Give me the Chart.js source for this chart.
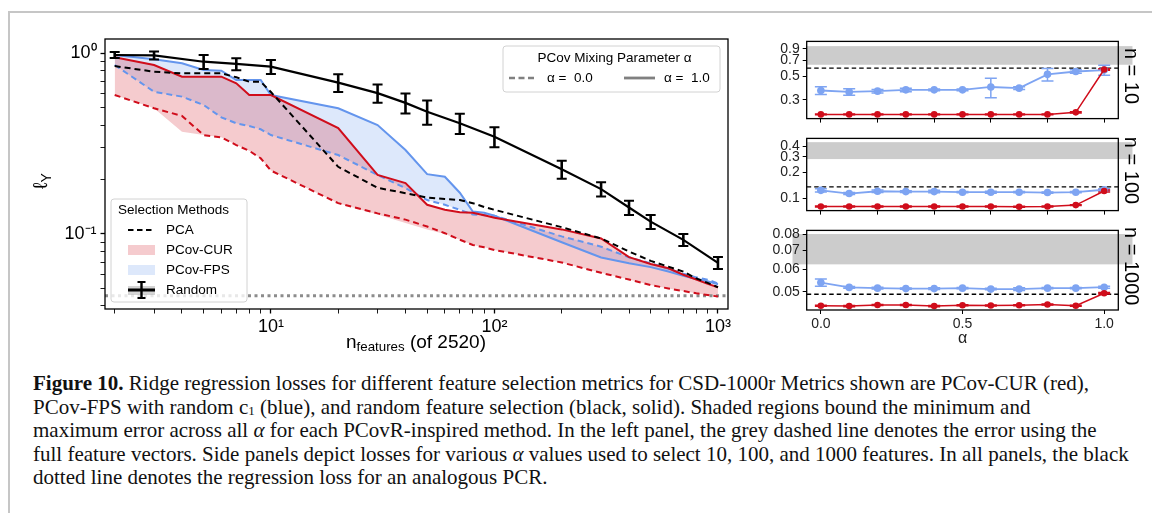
<!DOCTYPE html>
<html>
<head>
<meta charset="utf-8">
<title>Figure 10</title>
<script src="https://cdn.jsdelivr.net/npm/chart.js@4.4.1/dist/chart.umd.min.js"></script>
<style>
  html, body { margin: 0; padding: 0; background: #fff; }
  body { position: relative; width: 1152px; height: 513px; overflow: hidden; font-family: "Liberation Sans", Arial, sans-serif; }
  #frame { position: absolute; left: 8px; top: 11px; width: 1200px; height: 600px; border-top: 2px solid #c6c6c6; border-left: 2px solid #c6c6c6; }
  canvas { position: absolute; }
  #main { left: 0; top: 0; }
  #side10 { left: 760px; top: 30px; }
  #side100 { left: 760px; top: 127px; }
  #side1000 { left: 760px; top: 219px; }
  .lab { position: absolute; color: #000; white-space: nowrap; text-align: center; }
  #ylab { left: 20px; top: 170px; width: 40px; height: 22px; line-height: 22px; font-size: 20px; transform: rotate(-90deg); }
  #xlab { left: 296px; top: 331px; width: 240px; font-size: 19px; }
  .lab sub { font-size: 70%; vertical-align: -0.25em; line-height: 0; }
  #caption { position: absolute; left: 33px; top: 372px; font-family: "Liberation Serif", "Times New Roman", serif; font-size: 21px; line-height: 23.5px; color: #111; white-space: nowrap; }
  #caption sub { font-size: 62%; position: relative; top: 0.15em; vertical-align: baseline; line-height: 0; }
</style>
</head>
<body>
<div id="frame"></div>
<canvas id="main" width="745" height="370"></canvas>
<canvas id="side10" width="392" height="100"></canvas>
<canvas id="side100" width="392" height="95"></canvas>
<canvas id="side1000" width="392" height="151"></canvas>
<div class="lab" id="ylab">ℓ<sub>Y</sub></div>
<div class="lab" id="xlab">n<sub>features</sub> (of 2520)</div>
<div id="caption">
<b>Figure 10.</b> Ridge regression losses for different feature selection metrics for CSD-1000r Metrics shown are PCov-CUR (red),<br>
PCov-FPS with random c<sub>1</sub> (blue), and random feature selection (black, solid). Shaded regions bound the minimum and<br>
maximum error across all <i>α</i> for each PCovR-inspired method. In the left panel, the grey dashed line denotes the error using the<br>
full feature vectors. Side panels depict losses for various <i>α</i> values used to select 10, 100, and 1000 features. In all panels, the black<br>
dotted line denotes the regression loss for an analogous PCR.
</div>
<script>
// ---- main panel data ----
const nRandom = [2, 3, 5, 7, 10, 20, 30, 40, 50, 70, 100, 200, 300, 400, 500, 700, 1000];
const lossRandom = [0.975, 0.97, 0.895, 0.87, 0.84, 0.686, 0.60, 0.53, 0.474, 0.409, 0.345, 0.228, 0.177, 0.14, 0.117, 0.0928, 0.0693];
const errRandom = [0.037, 0.049, 0.080, 0.066, 0.075, 0.078, 0.069, 0.067, 0.072, 0.052, 0.044, 0.026, 0.016, 0.0125, 0.0104, 0.0071, 0.0053];

const nPCov = [2, 3, 4, 5, 6, 7, 8, 9, 10, 20, 30, 40, 50, 60, 70, 80, 90, 100, 200, 300, 400, 500, 600, 700, 800, 900, 1000];
const lossPCA = [0.847, 0.788, 0.772, 0.772, 0.772, 0.734, 0.694, 0.694, 0.609, 0.235, 0.180, 0.168, 0.159, 0.156, 0.154, 0.148, 0.141, 0.136, 0.109, 0.0945, 0.080, 0.071, 0.066, 0.062, 0.0568, 0.0537, 0.0508];
const curA1 = [0.947, 0.858, 0.740, 0.740, 0.740, 0.68, 0.586, 0.586, 0.586, 0.385, 0.212, 0.191, 0.145, 0.136, 0.132, 0.131, 0.127, 0.123, 0.106, 0.0945, 0.0745, 0.0683, 0.0646, 0.0595, 0.056, 0.053, 0.0508];
const fpsA1 = [0.975, 0.923, 0.877, 0.805, 0.798, 0.709, 0.709, 0.709, 0.586, 0.495, 0.40, 0.291, 0.214, 0.207, 0.169, 0.133, 0.131, 0.126, 0.090, 0.0742, 0.0689, 0.0656, 0.062, 0.0588, 0.0564, 0.0547, 0.0528];
const curA0 = [0.586, 0.495, 0.449, 0.352, 0.342, 0.31, 0.288, 0.262, 0.224, 0.148, 0.130, 0.12, 0.110, 0.101, 0.093, 0.087, 0.0844, 0.0816, 0.0696, 0.061, 0.056, 0.0522, 0.050, 0.0484, 0.047, 0.046, 0.0451];
const fpsA0 = [0.858, 0.611, 0.574, 0.516, 0.441, 0.409, 0.395, 0.379, 0.352, 0.273, 0.212, 0.179, 0.154, 0.145, 0.136, 0.128, 0.127, 0.126, 0.097, 0.0851, 0.0743, 0.0689, 0.0643, 0.0604, 0.0576, 0.0559, 0.0533];
const curMin = [0.586, 0.495, 0.367, 0.352, 0.342, 0.31, 0.288, 0.262, 0.224, 0.148, 0.128, 0.115, 0.106, 0.100, 0.093, 0.087, 0.0844, 0.0816, 0.0696, 0.061, 0.056, 0.0522, 0.050, 0.0484, 0.047, 0.046, 0.0451];
const pcrLoss = 0.0455;

const xTickVals = [2, 3, 4, 5, 6, 7, 8, 9, 10, 20, 30, 40, 50, 60, 70, 80, 90, 100, 200, 300, 400, 500, 600, 700, 800, 900, 1000];
const xTickLabels = { 10: "10¹", 100: "10²", 1000: "10³" };
const yTickVals = [0.04, 0.05, 0.06, 0.07, 0.08, 0.09, 0.1, 0.2, 0.3, 0.4, 0.5, 0.6, 0.7, 0.8, 0.9, 1];
const yTickLabels = { 1: "10⁰", 0.1: "10⁻¹" };

// ---- side panel data ----
const alphas = [0, 0.1, 0.2, 0.3, 0.4, 0.5, 0.6, 0.7, 0.8, 0.9, 1.0];
const fps10 = [0.367, 0.356, 0.362, 0.372, 0.372, 0.372, 0.396, 0.386, 0.520, 0.553, 0.571];
const fps10Err = [0.031, 0.025, 0.014, 0.014, 0.007, 0.007, 0.082, 0.011, 0.069, 0.021, 0.061];
const cur10 = [0.219, 0.219, 0.219, 0.219, 0.219, 0.219, 0.219, 0.219, 0.219, 0.229, 0.578];
const cur10Err = [0.002, 0.002, 0.002, 0.002, 0.002, 0.002, 0.002, 0.002, 0.002, 0.003, 0.01];
const pca10 = 0.596;
const random10 = [0.640, 0.957];

const fps100 = [0.123, 0.113, 0.120, 0.119, 0.119, 0.117, 0.117, 0.117, 0.116, 0.117, 0.125];
const fps100Err = [0.005, 0.003, 0.004, 0.003, 0.004, 0.002, 0.003, 0.002, 0.002, 0.002, 0.003];
const cur100 = [0.080, 0.080, 0.080, 0.080, 0.080, 0.080, 0.080, 0.0795, 0.080, 0.083, 0.121];
const cur100Err = [0.001, 0.001, 0.001, 0.001, 0.001, 0.001, 0.001, 0.001, 0.001, 0.001, 0.003];
const pca100 = 0.135;
const random100 = [0.283, 0.444];

const fps1000 = [0.0539, 0.0518, 0.0515, 0.0513, 0.0513, 0.0515, 0.0511, 0.0511, 0.0515, 0.0515, 0.0519];
const fps1000Err = [0.0016, 0.0004, 0.0004, 0.0003, 0.0004, 0.0003, 0.0003, 0.0006, 0.0003, 0.0003, 0.0004];
const cur1000 = [0.0446, 0.0445, 0.0449, 0.0449, 0.0445, 0.0448, 0.0447, 0.0448, 0.0451, 0.0446, 0.0494];
const cur1000Err = [0.0002, 0.0002, 0.0002, 0.0002, 0.0002, 0.0002, 0.0002, 0.0002, 0.0002, 0.0002, 0.0003];
const pca1000 = 0.0490;
const random1000 = [0.0625, 0.080];

const red = "#d00d1b";
const blue = "#6495ed";
const blueSide = "#7ea4f2";
const pinkFill = "rgba(208,16,32,0.22)";
const blueFill = "rgba(100,149,237,0.22)";

Chart.defaults.font.family = "'Liberation Sans', Arial, sans-serif";
Chart.defaults.color = "#000";

const toXY = (xs, ys) => xs.map((x, i) => ({ x: x, y: ys[i] }));

function boxPath(ctx, x, y, w, h, r) {
  ctx.beginPath();
  ctx.moveTo(x + r, y);
  ctx.lineTo(x + w - r, y);
  ctx.quadraticCurveTo(x + w, y, x + w, y + r);
  ctx.lineTo(x + w, y + h - r);
  ctx.quadraticCurveTo(x + w, y + h, x + w - r, y + h);
  ctx.lineTo(x + r, y + h);
  ctx.quadraticCurveTo(x, y + h, x, y + h - r);
  ctx.lineTo(x, y + r);
  ctx.quadraticCurveTo(x, y, x + r, y);
  ctx.closePath();
}

function hline(ctx, x0, x1, y, color, width, dash) {
  ctx.save();
  ctx.strokeStyle = color;
  ctx.lineWidth = width;
  ctx.setLineDash(dash || []);
  ctx.beginPath();
  ctx.moveTo(x0, y);
  ctx.lineTo(x1, y);
  ctx.stroke();
  ctx.restore();
}

// extra drawing for the main panel: PCR line, error bars, frame, legends
const mainDecor = {
  id: "mainDecor",
  beforeDatasetsDraw(chart) {
    const a = chart.chartArea;
    const yp = chart.scales.y.getPixelForValue(pcrLoss);
    hline(chart.ctx, a.left, a.right, yp, "#8c8c8c", 3, [3, 3.5]);
  },
  afterDatasetsDraw(chart) {
    const ctx = chart.ctx;
    const a = chart.chartArea;
    const xs = chart.scales.x, ys = chart.scales.y;

    // random error bars
    ctx.save();
    ctx.strokeStyle = "#000";
    nRandom.forEach((n, i) => {
      const x = xs.getPixelForValue(n);
      const y0 = ys.getPixelForValue(lossRandom[i] - errRandom[i]);
      const y1 = ys.getPixelForValue(lossRandom[i] + errRandom[i]);
      ctx.lineWidth = 2.6;
      ctx.beginPath(); ctx.moveTo(x, y0); ctx.lineTo(x, y1); ctx.stroke();
      ctx.lineWidth = 2;
      ctx.beginPath();
      ctx.moveTo(x - 5, y0); ctx.lineTo(x + 5, y0);
      ctx.moveTo(x - 5, y1); ctx.lineTo(x + 5, y1);
      ctx.stroke();
    });
    ctx.restore();

    // frame
    ctx.save();
    ctx.strokeStyle = "#000";
    ctx.lineWidth = 1.3;
    ctx.strokeRect(a.left, a.top, a.width, a.height);
    ctx.restore();

    ctx.save();
    ctx.font = "13.5px 'Liberation Sans', Arial, sans-serif";
    ctx.textBaseline = "middle";

    // legend: selection methods
    const lx = a.left + 6, ly = a.bottom - 110, lw = 136, lh = 103;
    boxPath(ctx, lx, ly, lw, lh, 3);
    ctx.fillStyle = "rgba(255,255,255,0.8)";
    ctx.fill();
    ctx.strokeStyle = "#d2d2d2";
    ctx.lineWidth = 1;
    ctx.stroke();
    ctx.fillStyle = "#000";
    ctx.textAlign = "left";
    ctx.fillText("Selection Methods", lx + 7, ly + 11);
    const hx0 = lx + 17, hx1 = lx + 44, tx = lx + 55;
    hline(ctx, hx0, hx1, ly + 31, "#000", 2, [5.5, 3.5]);
    ctx.fillStyle = "#000";
    ctx.fillText("PCA", tx, ly + 31);
    ctx.fillStyle = pinkFill;
    ctx.fillRect(hx0, ly + 46, hx1 - hx0, 10);
    ctx.fillStyle = "#000";
    ctx.fillText("PCov-CUR", tx, ly + 51);
    ctx.fillStyle = blueFill;
    ctx.fillRect(hx0, ly + 66, hx1 - hx0, 10);
    ctx.fillStyle = "#000";
    ctx.fillText("PCov-FPS", tx, ly + 71);
    ctx.fillStyle = "rgba(160,160,160,0.45)";
    ctx.fillRect(hx0, ly + 87, hx1 - hx0, 9);
    hline(ctx, hx0, hx1, ly + 91, "#000", 3);
    const hc = (hx0 + hx1) / 2;
    ctx.strokeStyle = "#000";
    ctx.lineWidth = 2.4;
    ctx.beginPath(); ctx.moveTo(hc, ly + 83); ctx.lineTo(hc, ly + 99); ctx.stroke();
    ctx.lineWidth = 1.8;
    ctx.beginPath();
    ctx.moveTo(hc - 4, ly + 83); ctx.lineTo(hc + 4, ly + 83);
    ctx.moveTo(hc - 4, ly + 99); ctx.lineTo(hc + 4, ly + 99);
    ctx.stroke();
    ctx.fillStyle = "#000";
    ctx.fillText("Random", tx, ly + 91);

    // legend: mixing parameter
    const bw = 217, bh = 46, bx = a.right - bw - 8, by = a.top + 7;
    boxPath(ctx, bx, by, bw, bh, 3);
    ctx.fillStyle = "rgba(255,255,255,0.8)";
    ctx.fill();
    ctx.strokeStyle = "#d2d2d2";
    ctx.lineWidth = 1;
    ctx.stroke();
    ctx.fillStyle = "#000";
    ctx.textAlign = "center";
    ctx.fillText("PCov Mixing Parameter α", bx + bw / 2 + 3, by + 12);
    ctx.textAlign = "left";
    hline(ctx, bx + 6, bx + 34, by + 32, "#808080", 2.4, [6, 3.5]);
    ctx.fillStyle = "#000";
    ctx.fillText("α =  0.0", bx + 44, by + 32);
    hline(ctx, bx + 121, bx + 152, by + 32, "#808080", 2.8);
    ctx.fillStyle = "#000";
    ctx.fillText("α =  1.0", bx + 161, by + 32);
    ctx.restore();
  }
};

new Chart(document.getElementById("main"), {
  type: "line",
  data: {
    datasets: [
      { label: "Random", data: toXY(nRandom, lossRandom), borderColor: "#000", borderWidth: 2.2 },
      { label: "PCA", data: toXY(nPCov, lossPCA), borderColor: "#000", borderWidth: 2, borderDash: [6, 4] },
      { label: "PCov-CUR α=1", data: toXY(nPCov, curA1), borderColor: red, borderWidth: 2, fill: 6, backgroundColor: pinkFill },
      { label: "PCov-FPS α=1", data: toXY(nPCov, fpsA1), borderColor: blue, borderWidth: 2, fill: 5, backgroundColor: blueFill },
      { label: "PCov-CUR α=0", data: toXY(nPCov, curA0), borderColor: red, borderWidth: 2, borderDash: [6, 4] },
      { label: "PCov-FPS α=0", data: toXY(nPCov, fpsA0), borderColor: blue, borderWidth: 2, borderDash: [6, 4] },
      { label: "PCov-CUR min", data: toXY(nPCov, curMin), borderColor: "rgba(0,0,0,0)", borderWidth: 0 }
    ]
  },
  options: {
    responsive: false,
    animation: false,
    events: [],
    elements: { point: { radius: 0 }, line: { tension: 0 } },
    layout: { padding: { left: 0, top: 39, right: 17, bottom: 0 } },
    plugins: {
      legend: { display: false },
      tooltip: { enabled: false },
      filler: { drawTime: "beforeDatasetsDraw" }
    },
    scales: {
      x: {
        type: "logarithmic",
        min: 1.81,
        max: 1109,
        afterBuildTicks: (s) => { s.ticks = xTickVals.map((v) => ({ value: v })); },
        afterFit: (s) => { s.height = 61; },
        ticks: {
          autoSkip: false, maxRotation: 0, padding: 3,
          font: { size: 18 }, color: "#000",
          callback: (v) => xTickLabels[v] || ""
        },
        grid: {
          drawOnChartArea: false, tickLength: 4.5, tickColor: "#000",
          tickWidth: (c) => (xTickLabels[c.tick && c.tick.value] ? 1.3 : 0.9)
        },
        border: { display: false }
      },
      y: {
        type: "logarithmic",
        min: 0.0385,
        max: 1.195,
        afterBuildTicks: (s) => { s.ticks = yTickVals.map((v) => ({ value: v })); },
        afterFit: (s) => { s.width = 105; },
        ticks: {
          autoSkip: false, padding: 4,
          font: { size: 18 }, color: "#000",
          callback: (v) => yTickLabels[v] || ""
        },
        grid: {
          drawOnChartArea: false, tickLength: 4.5, tickColor: "#000",
          tickWidth: (c) => (yTickLabels[c.tick && c.tick.value] ? 1.3 : 0.9)
        },
        border: { display: false }
      }
    }
  },
  plugins: [mainDecor]
});

// ---- side panels ----
function sideDecor(cfg) {
  return {
    id: "sideDecor",
    beforeDraw(chart) {
      const ctx = chart.ctx;
      const xs = chart.scales.x, ys = chart.scales.y;
      const x0 = xs.getPixelForValue(cfg.bandX[0]);
      const x1 = xs.getPixelForValue(1.1);
      const y0 = ys.getPixelForValue(cfg.band[1]);
      const y1 = ys.getPixelForValue(cfg.band[0]);
      ctx.save();
      ctx.fillStyle = "#cccccc";
      ctx.fillRect(x0, y0, x1 - x0, y1 - y0);
      ctx.restore();
    },
    beforeDatasetsDraw(chart) {
      const ctx = chart.ctx;
      const a = chart.chartArea;
      const xs = chart.scales.x, ys = chart.scales.y;
      hline(ctx, a.left, a.right, ys.getPixelForValue(cfg.pca), "#000", 1.3, [4.5, 3]);
      ctx.save();
      chart.data.datasets.slice().reverse().forEach((ds) => {
        ctx.strokeStyle = ds.backgroundColor;
        ctx.lineWidth = 1.5;
        ds.data.forEach((p, i) => {
          const x = xs.getPixelForValue(p.x);
          const y0 = ys.getPixelForValue(p.y - ds.errors[i]);
          const y1 = ys.getPixelForValue(p.y + ds.errors[i]);
          ctx.beginPath();
          ctx.moveTo(x, y0); ctx.lineTo(x, y1);
          ctx.moveTo(x - 6, y0); ctx.lineTo(x + 6, y0);
          ctx.moveTo(x - 6, y1); ctx.lineTo(x + 6, y1);
          ctx.stroke();
        });
      });
      ctx.restore();
    },
    afterDraw(chart) {
      const ctx = chart.ctx;
      const a = chart.chartArea;
      ctx.save();
      ctx.strokeStyle = "#000";
      ctx.lineWidth = 1.3;
      ctx.strokeRect(a.left, a.top, a.width, a.height);
      ctx.translate(a.right + 12, (a.top + a.bottom) / 2 - 4);
      ctx.rotate(Math.PI / 2);
      ctx.font = "20px 'Liberation Sans', Arial, sans-serif";
      ctx.fillStyle = "#000";
      ctx.textAlign = "center";
      ctx.textBaseline = "middle";
      ctx.fillText(cfg.nLabel, 0, 0);
      ctx.restore();
    }
  };
}

function sidePanel(id, cfg) {
  return new Chart(document.getElementById(id), {
    type: "line",
    data: {
      datasets: [
        { label: "PCov-CUR", data: toXY(alphas, cfg.cur), errors: cfg.curErr, borderColor: red, backgroundColor: red, borderWidth: 1.5, pointRadius: 3.3, pointBorderWidth: 0 },
        { label: "PCov-FPS", data: toXY(alphas, cfg.fps), errors: cfg.fpsErr, borderColor: blueSide, backgroundColor: blueSide, borderWidth: 1.8, pointRadius: 3.8, pointBorderWidth: 0 }
      ]
    },
    options: {
      responsive: false,
      animation: false,
      events: [],
      elements: { line: { tension: 0 } },
      layout: { padding: { left: 0, top: cfg.padTop, right: 33.7, bottom: 0 } },
      plugins: { legend: { display: false }, tooltip: { enabled: false } },
      scales: {
        x: {
          type: "linear",
          min: -0.05,
          max: 1.05,
          afterBuildTicks: (s) => { s.ticks = cfg.xTicks.map((v) => ({ value: v })); },
          afterFit: (s) => { s.height = cfg.xHeight; },
          ticks: { display: cfg.xLabels, padding: 2, font: { size: 14 }, color: "#222", callback: (v) => v.toFixed(1) },
          grid: { drawOnChartArea: false, tickLength: 4, tickColor: "#000", tickWidth: 1 },
          border: { display: false },
          title: { display: cfg.xLabels, text: "α", font: { size: 16 }, color: "#222", padding: { top: 0, bottom: 22 } }
        },
        y: {
          type: "logarithmic",
          min: cfg.yMin,
          max: cfg.yMax,
          afterBuildTicks: (s) => { s.ticks = cfg.yTicks.map((v) => ({ value: v })); },
          afterFit: (s) => { s.width = 46.7; },
          ticks: { autoSkip: false, padding: 3, font: { size: 14 }, color: "#222", callback: (v) => v.toFixed(cfg.dec) },
          grid: { drawOnChartArea: false, tickLength: 4, tickColor: "#000", tickWidth: 1 },
          border: { display: false }
        }
      }
    },
    plugins: [sideDecor(cfg)]
  });
}

sidePanel("side10", {
  cur: cur10, curErr: cur10Err, fps: fps10, fpsErr: fps10Err, pca: pca10, band: random10, bandX: [-0.05],
  yMin: 0.20, yMax: 1.06, yTicks: [0.3, 0.5, 0.7, 0.9], dec: 1,
  xTicks: [0, 0.2, 0.4, 0.6, 0.8, 1.0], xLabels: false, xHeight: 5, padTop: 7.3, nLabel: "n = 10"
});
sidePanel("side100", {
  cur: cur100, curErr: cur100Err, fps: fps100, fpsErr: fps100Err, pca: pca100, band: random100, bandX: [-0.05],
  yMin: 0.0717, yMax: 0.491, yTicks: [0.1, 0.2, 0.3, 0.4], dec: 1,
  xTicks: [0, 0.2, 0.4, 0.6, 0.8, 1.0], xLabels: false, xHeight: 4.3, padTop: 3.7, nLabel: "n = 100"
});
sidePanel("side1000", {
  cur: cur1000, curErr: cur1000Err, fps: fps1000, fpsErr: fps1000Err, pca: pca1000, band: random1000, bandX: [-0.1],
  yMin: 0.0431, yMax: 0.0824, yTicks: [0.05, 0.06, 0.07, 0.08], dec: 2,
  xTicks: [0, 0.5, 1.0], xLabels: true, xHeight: 60, padTop: 3.7, nLabel: "n = 1000"
});
</script>
</body>
</html>
